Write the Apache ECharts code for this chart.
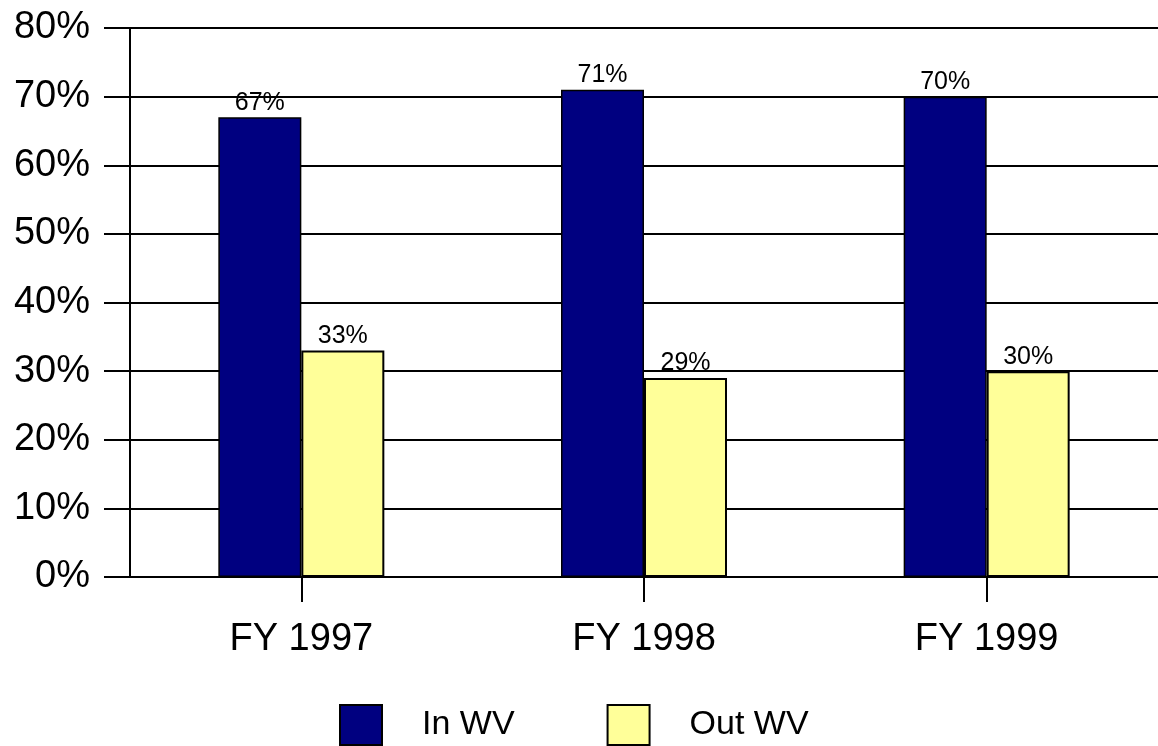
<!DOCTYPE html>
<html>
<head>
<meta charset="utf-8">
<script src="https://cdn.jsdelivr.net/npm/echarts@6/dist/echarts.min.js"></script>
<style>
html,body{margin:0;padding:0;background:#fff;}
#chart{width:1158px;height:746px;}
</style>
</head>
<body>
<div id="chart"></div>
<script>
var categories = ['FY 1997', 'FY 1998', 'FY 1999'];
var inWV = [67, 71, 70];
var outWV = [33, 29, 30];
var seriesNames = ['In WV', 'Out WV'];

var chart = echarts.init(document.getElementById('chart'), null, {renderer: 'canvas'});
var font = 'Liberation Sans, Arial, sans-serif';
var labelCfg = {
  show: true, position: 'top', distance: 2,
  formatter: '{c}%', color: '#000', fontFamily: font, fontSize: 25
};
chart.setOption({
  animation: false,
  backgroundColor: '#fff',
  grid: {left: 130, right: 0, top: 28, bottom: 169, containLabel: false},
  legend: {
    data: seriesNames,
    left: 339, top: 704, padding: 0,
    itemWidth: 42, itemHeight: 40, itemGap: 92,
    icon: 'rect',
    textStyle: {fontFamily: font, fontSize: 34, color: '#000', padding: [0, 0, 0, 35]}
  },
  xAxis: {
    type: 'category',
    data: categories,
    axisLine: {lineStyle: {color: '#000', width: 2}},
    axisTick: {show: true, alignWithLabel: true, length: 25, lineStyle: {color: '#000', width: 2}},
    axisLabel: {fontFamily: font, fontSize: 38, color: '#000', margin: 44}
  },
  yAxis: {
    type: 'value', min: 0, max: 80, interval: 10,
    axisLine: {show: true, lineStyle: {color: '#000', width: 2}},
    axisTick: {show: true, length: 26, lineStyle: {color: '#000', width: 2}},
    splitLine: {show: true, lineStyle: {color: '#000', width: 2}},
    axisLabel: {formatter: '{value}%', fontFamily: font, fontSize: 38, color: '#000', margin: 40}
  },
  series: [
    {
      name: seriesNames[0], type: 'bar', data: inWV,
      barWidth: 83, barGap: '0%',
      itemStyle: {color: '#000080', borderColor: '#000', borderWidth: 1.5},
      label: labelCfg
    },
    {
      name: seriesNames[1], type: 'bar', data: outWV,
      barWidth: 83,
      itemStyle: {color: '#FFFF99', borderColor: '#000', borderWidth: 2},
      label: labelCfg
    }
  ]
});
</script>
</body>
</html>
